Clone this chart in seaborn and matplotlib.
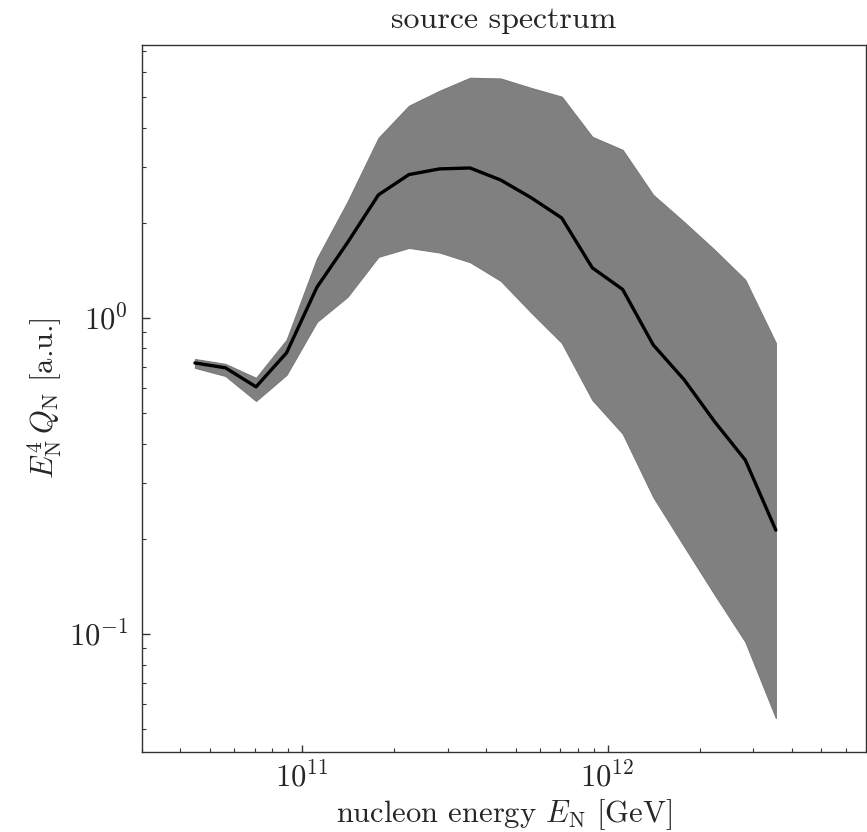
import matplotlib
matplotlib.use("Agg")
import matplotlib.pyplot as plt
import seaborn as sns
import pandas as pd
import numpy as np

energy = [4.47e10, 5.62e10, 7.08e10, 8.91e10, 1.12e11, 1.41e11, 1.78e11, 2.24e11,
          2.82e11, 3.55e11, 4.47e11, 5.62e11, 7.08e11, 8.91e11, 1.12e12, 1.41e12,
          1.78e12, 2.24e12, 2.82e12, 3.55e12]
median = [0.720, 0.695, 0.605, 0.775, 1.25, 1.73, 2.45, 2.84, 2.96, 2.98,
          2.73, 2.40, 2.07, 1.44, 1.23, 0.821, 0.637, 0.469, 0.355, 0.213]
upper = [0.741, 0.715, 0.646, 0.852, 1.54, 2.33, 3.71, 4.69, 5.23, 5.75,
         5.72, 5.34, 5.01, 3.74, 3.40, 2.45, 2.01, 1.64, 1.32, 0.833]
lower = [0.695, 0.655, 0.546, 0.660, 0.971, 1.165, 1.56, 1.665, 1.61, 1.50,
         1.31, 1.04, 0.833, 0.550, 0.430, 0.271, 0.189, 0.133, 0.0944, 0.0542]

df = pd.DataFrame({"energy": energy, "median": median, "upper": upper, "lower": lower})

sns.set_theme(style="white")
plt.rcParams.update({
    "font.family": "serif",
    "font.serif": ["cmr10"],
    "mathtext.fontset": "cm",
    "axes.formatter.use_mathtext": True,
    "axes.unicode_minus": False,
    "axes.edgecolor": "#333333",
    "axes.linewidth": 1.0,
})

fig = plt.figure(figsize=(8.67, 8.32), dpi=100)
ax = fig.add_axes([142/867, 1-752/832, (866-142)/867, (752-45)/832])

ax.fill_between(df["energy"], df["lower"], df["upper"], color="#808080", linewidth=0.8,
                edgecolor="#7a7a7a", zorder=1)
sns.lineplot(data=df, x="energy", y="median", color="black", linewidth=2.4, ax=ax,
             zorder=2, sort=False)

ax.set_xscale("log")
ax.set_yscale("log")
ax.set_xlim(3.0e10, 7.0e12)
ax.set_ylim(0.0423, 7.3)

ax.set_title("source spectrum", fontsize=23, pad=12)
ax.set_xlabel(r"nucleon energy $E_\mathrm{N}$ [GeV]", fontsize=22, labelpad=3)
ax.set_ylabel(r"$E_\mathrm{N}^4\,Q_\mathrm{N}$ [a.u.]", fontsize=22, labelpad=3)

ax.tick_params(which="both", direction="in", top=False, right=False,
               left=True, bottom=True, labelsize=22, color="#333333")
ax.tick_params(axis="x", which="major", length=5, width=1.0, pad=7)
ax.tick_params(axis="y", which="major", length=6, width=1.0, pad=10)
ax.tick_params(which="minor", length=2.8, width=0.8)
for s in ax.spines.values():
    s.set_visible(True)

fig.savefig("out.png", dpi=100)
